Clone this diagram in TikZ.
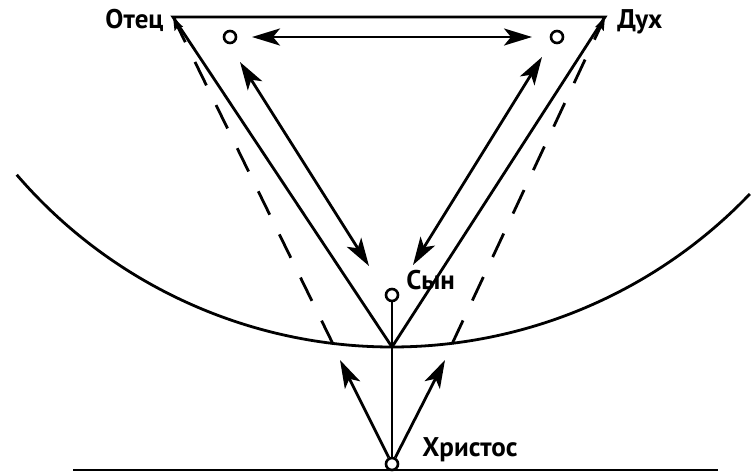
\documentclass[tikz,border=0pt]{standalone}
\usepackage{fontspec}
\setmainfont{PT Sans}
\usetikzlibrary{arrows.meta, positioning}

\tikzset{
  pt/.style={circle, draw, line width=2.6pt, fill=white, inner sep=0pt, minimum size=12pt},
  lbl/.style={font=\fontsize{27}{27}\selectfont\bfseries, inner sep=0pt, anchor=base west},
  big/.style={line width=2.8pt, -{Stealth[length=28pt, width=17pt, inset=7pt]}},
  bigboth/.style={line width=2.8pt, {Stealth[length=28pt, width=17pt, inset=7pt]}-{Stealth[length=28pt, width=17pt, inset=7pt]}},
  dsh/.style={line width=2.8pt, dash pattern=on 26pt off 22pt, -{Stealth[length=13pt, width=9pt, inset=2pt]}}
}

\begin{document}
\begin{tikzpicture}[x=1pt, y=-1pt, line width=2.8pt]
    \useasboundingbox (0,0) rectangle (752,472);

    % Треугольник
    \coordinate (tl) at (173,17);
    \coordinate (tr) at (605,17);
    \coordinate (bot) at (392,347);
    \draw[line join=miter] (tl) -- (tr) -- (bot) -- cycle;

    % Окружность (дуга)
    \draw (392,-148) ++(139.3:495) arc[start angle=139.3, end angle=43.7, radius=495];

    % Нижняя линия
    \draw (73,470) -- (718,470);

    % Лица
    \node[pt] (father) at (230,37) {};
    \node[pt] (spirit) at (557,37) {};
    \node[pt] (son) at (392,295) {};
    \node[pt] (christ) at (392,464) {};

    \node[lbl] (fatherlbl) at (104,28) {Отец};
    \node[lbl] (spiritlbl) at (616,28) {Дух};
    \node[lbl] (sonlbl) at (405,289) {Сын};
    \node[lbl] (christlbl) at (421,456) {Христос};

    % Связи
    \draw (son) -- (bot);
    \draw (son) -- (christ);

    \coordinate (h1) at (252,37);
    \coordinate (h2) at (532,37);
    \draw[bigboth] (h1) -- (h2);

    \coordinate (l1) at (240,62);
    \coordinate (l2) at (369,266);
    \draw[bigboth] (l1) -- (l2);

    \coordinate (r1) at (542,57);
    \coordinate (r2) at (413,265);
    \draw[bigboth] (r1) -- (r2);

    \coordinate (up1) at (340,360);
    \coordinate (up2) at (445,360);
    \draw[big] (christ) -- (up1);
    \draw[big] (christ) -- (up2);

    % Пунктир
    \coordinate (al) at (333,344);
    \coordinate (ar) at (452,344);
    \draw[dsh] (al) -- (tl);
    \draw[dsh] (ar) -- (tr);
\end{tikzpicture}
\end{document}
